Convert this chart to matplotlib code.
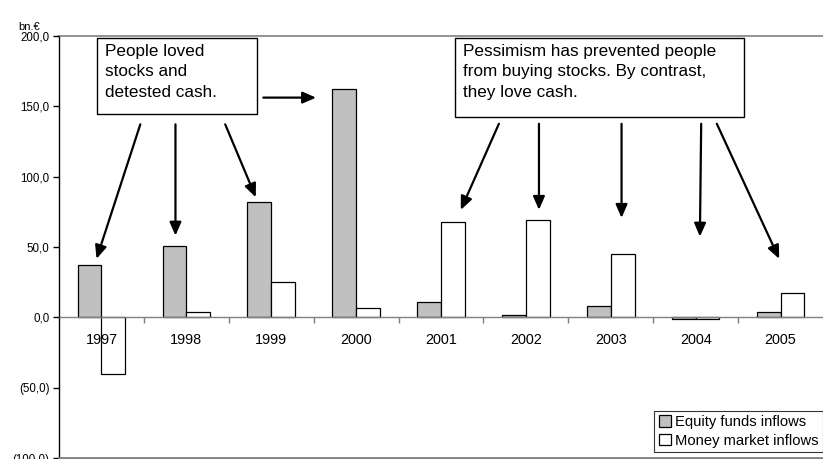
import numpy as np
import matplotlib
matplotlib.use("Agg")
import matplotlib.pyplot as plt
from matplotlib.patches import Rectangle

plt.rcParams['font.family'] = ['Liberation Sans', 'DejaVu Sans']

# Data (bn.€)
years = ['1997', '1998', '1999', '2000', '2001', '2002', '2003', '2004', '2005']
equity_inflows = [37, 51, 82, 162.5, 11, 2, 8, -1.5, 4]
money_inflows = [-40.5, 4, 25, 6.5, 68, 69, 45, -1, 17]
y_ticks = [-100, -50, 0, 50, 100, 150, 200]
y_tick_labels = ['(100,0)', '(50,0)', '0,0', '50,0', '100,0', '150,0', '200,0']

W, H = 823, 459
fig = plt.figure(figsize=(W / 100, H / 100), dpi=100)
ax = fig.add_axes([59 / W, 1 / H, (W - 59) / W, 422 / H])

x = np.arange(len(years))
bw = 0.28
ax.bar(x - bw / 2, equity_inflows, bw, color='#c0c0c0', edgecolor='black', linewidth=0.9,
       label='Equity funds inflows', zorder=2)
ax.bar(x + bw / 2, money_inflows, bw, color='white', edgecolor='black', linewidth=0.9,
       label='Money market inflows', zorder=2)
ax.set_axisbelow(False)

ax.set_xlim(-0.5, len(years) - 0.5)
ax.set_ylim(-100, 200)

# axes styling
grey = '#808080'
ax.spines['right'].set_visible(False)
ax.spines['top'].set_color(grey)
ax.spines['top'].set_linewidth(1.2)
ax.spines['left'].set_color('black')
ax.spines['left'].set_linewidth(1.0)
ax.spines['bottom'].set_position(('data', 0))
ax.spines['bottom'].set_color(grey)
ax.spines['bottom'].set_linewidth(1.0)
ax.axhline(-100, color=grey, lw=2, clip_on=False, zorder=5)

ax.set_yticks(y_ticks)
ax.set_yticklabels(y_tick_labels, fontsize=8.3)
ax.tick_params(axis='y', direction='out', length=4, width=1, color='black', pad=3)

ax.set_xticks(x)
ax.set_xticklabels(years, fontsize=10.4)
ax.tick_params(axis='x', which='major', length=0, pad=11)
ax.set_xticks(np.arange(0.5, len(years) - 1, 1), minor=True)
ax.tick_params(axis='x', which='minor', direction='out', length=4, width=1, color=grey)

fig.text(18 / W, 1 - 27 / H, 'bn.€', fontsize=8, ha='left', va='center')

# annotation boxes
ax.add_patch(Rectangle((-0.055, 144.3), 1.888, 54.1, facecolor='white', edgecolor='black',
                       linewidth=1.0, zorder=6))
ax.text(0.04, 194, 'People loved\nstocks and\ndetested cash.', fontsize=12.3, ha='left', va='top',
        linespacing=1.42, zorder=7)

ax.add_patch(Rectangle((4.166, 142.1), 3.4, 56.3, facecolor='white', edgecolor='black',
                       linewidth=1.0, zorder=6))
ax.text(4.26, 194, 'Pessimism has prevented people\nfrom buying stocks. By contrast,\nthey love cash.',
        fontsize=12.3, ha='left', va='top', linespacing=1.42, zorder=7)

arrows = [
    ((0.458, 137.2), (-0.058, 41.6)),
    ((0.872, 137.2), (0.872, 58.1)),
    ((1.458, 137.2), (1.818, 85.4)),
    ((1.907, 156.2), (2.528, 156.2)),
    ((4.682, 137.6), (4.233, 76.4)),
    ((5.154, 137.6), (5.154, 76.4)),
    ((6.127, 137.6), (6.127, 70.7)),
    ((7.065, 137.6), (7.05, 57.4)),
    ((7.249, 137.6), (7.984, 41.6)),
]
for start, end in arrows:
    ax.annotate('', xy=end, xytext=start,
                arrowprops=dict(arrowstyle='-|>,head_length=0.8,head_width=0.35',
                                color='black', lw=1.6, shrinkA=0, shrinkB=0),
                zorder=6)

leg = fig.legend(loc='lower right', bbox_to_anchor=(1.0, 7 / H), bbox_transform=fig.transFigure,
                 fontsize=10.6, frameon=True, fancybox=False, edgecolor='black',
                 handlelength=0.85, handleheight=0.85, handletextpad=0.25, borderpad=0.3,
                 labelspacing=0.3, borderaxespad=0)
leg.get_frame().set_linewidth(0.8)

fig.savefig('out.png', dpi=100)
